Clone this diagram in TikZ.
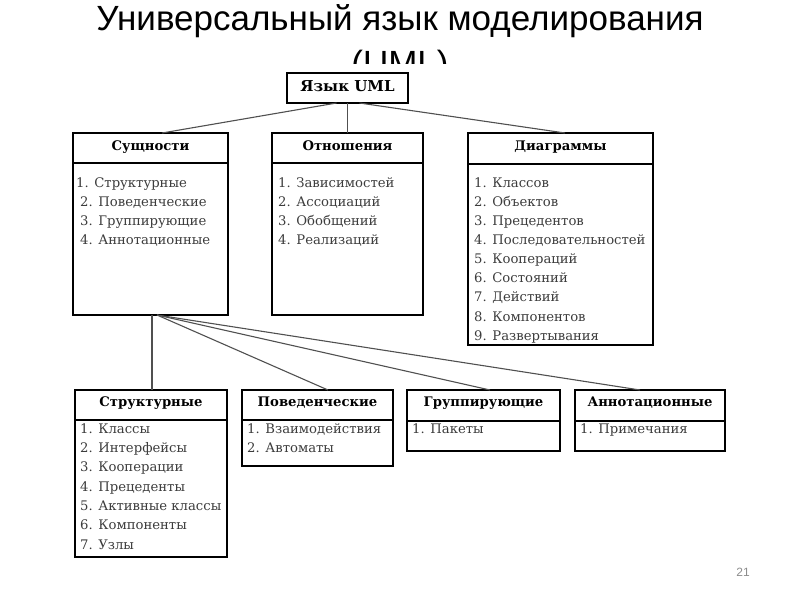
\documentclass[tikz,border=0pt]{standalone}
\usepackage{fontspec}
\usetikzlibrary{calc}
\newfontfamily\titlefont{Liberation Sans}
\newfontfamily\bodyfont{DejaVu Serif}
\definecolor{itemgray}{HTML}{3C3C3C}
\definecolor{conngray}{HTML}{505050}
\definecolor{pagegray}{HTML}{8C8C8C}
\tikzset{
  box/.style={draw=black, line width=2pt, rectangle, anchor=north west, inner sep=0pt, outer sep=0pt},
  divline/.style={draw=black, line width=2pt},
  conn/.style={draw=conngray, line width=1.1pt},
  head/.style={font=\bodyfont\bfseries\fontsize{13.2}{15}\selectfont, text=black, inner sep=0pt, text height=9pt, text depth=3pt},
  item/.style={font=\bodyfont\fontsize{13.2}{15}\selectfont, text=itemgray, anchor=west, inner sep=0pt, text height=9pt, text depth=3pt},
  titletext/.style={font=\titlefont\fontsize{35}{40}\selectfont, text=black, anchor=base, inner sep=0pt}
}
\begin{document}
\begin{tikzpicture}[x=1pt, y=-1pt]
\useasboundingbox (0,0) rectangle (800,600);
% title
\node[titletext] (title1) at (400,30) {Универсальный язык моделирования};
\begin{scope}
  \clip (0,0) rectangle (800,63);
  \node[titletext] (title2) at (400,75) {(UML)};
\end{scope}
% top box
\node[box, minimum width=121pt, minimum height=30pt] (uml) at (287,73) {};
\node[head, font=\bodyfont\bfseries\fontsize{15}{17}\selectfont] (umltext) at (347.5,88) {Язык UML};
% second level boxes
\node[box, minimum width=155pt, minimum height=182pt] (sus) at (73,133) {};
\node[box, minimum width=151pt, minimum height=182pt] (otn) at (272,133) {};
\node[box, minimum width=185pt, minimum height=212pt] (dia) at (468,133) {};
\draw[divline] (sus.west |- 0,163) -- (sus.east |- 0,163);
\draw[divline] (otn.west |- 0,163) -- (otn.east |- 0,163);
\draw[divline] (dia.west |- 0,164) -- (dia.east |- 0,164);
\node[head] (sush) at (150.5,147) {Сущности};
\node[head] (otnh) at (347.5,147) {Отношения};
\node[head] (diah) at (560.5,147) {Диаграммы};
% Сущности items
\node[item] (s1) at (76,184) {1. Структурные};
\node[item] (s2) at (80,203) {2. Поведенческие};
\node[item] (s3) at (80,222) {3. Группирующие};
\node[item] (s4) at (80,241) {4. Аннотационные};
% Отношения items
\node[item] (o1) at (278,184) {1. Зависимостей};
\node[item] (o2) at (278,203) {2. Ассоциаций};
\node[item] (o3) at (278,222) {3. Обобщений};
\node[item] (o4) at (278,241) {4. Реализаций};
% Диаграммы items
\node[item] (d1) at (474,184) {1. Классов};
\node[item] (d2) at (474,203) {2. Объектов};
\node[item] (d3) at (474,222) {3. Прецедентов};
\node[item] (d4) at (474,241) {4. Последовательностей};
\node[item] (d5) at (474,260) {5. Коопераций};
\node[item] (d6) at (474,279) {6. Состояний};
\node[item] (d7) at (474,298) {7. Действий};
\node[item] (d8) at (474,318) {8. Компонентов};
\node[item] (d9) at (474,337) {9. Развертывания};
% third level boxes
\node[box, minimum width=152pt, minimum height=167pt] (str) at (75,390) {};
\node[box, minimum width=151pt, minimum height=76pt] (pov) at (242,390) {};
\node[box, minimum width=153pt, minimum height=61pt] (gru) at (407,390) {};
\node[box, minimum width=150pt, minimum height=61pt] (ann) at (575,390) {};
\draw[divline] (str.west |- 0,420) -- (str.east |- 0,420);
\draw[divline] (pov.west |- 0,420) -- (pov.east |- 0,420);
\draw[divline] (gru.west |- 0,421) -- (gru.east |- 0,421);
\draw[divline] (ann.west |- 0,421) -- (ann.east |- 0,421);
\node[head] (strh) at (151,403) {Структурные};
\node[head] (povh) at (317.5,403) {Поведенческие};
\node[head] (gruh) at (483.5,403) {Группирующие};
\node[head] (annh) at (650,403) {Аннотационные};
\node[item] (t1) at (80,430) {1. Классы};
\node[item] (t2) at (80,449) {2. Интерфейсы};
\node[item] (t3) at (80,468) {3. Кооперации};
\node[item] (t4) at (80,488) {4. Прецеденты};
\node[item] (t5) at (80,507) {5. Активные классы};
\node[item] (t6) at (80,526) {6. Компоненты};
\node[item] (t7) at (80,546) {7. Узлы};
\node[item] (p1) at (247,430) {1. Взаимодействия};
\node[item] (p2) at (247,449) {2. Автоматы};
\node[item] (g1) at (412,430) {1. Пакеты};
\node[item] (a1) at (580,430) {1. Примечания};
% connectors
\draw[conn] ($(uml.south)+(-11,0)$) -- ($(sus.north)+(11.5,0)$);
\draw[conn] (uml.south) -- (otn.north);
\draw[conn] ($(uml.south)+(12,0)$) -- ($(dia.north)+(4.5,0)$);
\draw[conn] ($(sus.south)+(1.5,0)$) -- ($(str.north)+(1,0)$);
\draw[conn] ($(sus.south)+(6.5,0)$) -- ($(pov.north)+(10.5,0)$);
\draw[conn] ($(sus.south)+(6.5,0)$) -- ($(gru.north)+(6.5,0)$);
\draw[conn] ($(sus.south)+(6.5,0)$) -- ($(ann.north)+(-10,0)$);
% page number
\node[font=\titlefont\fontsize{12}{14}\selectfont, text=pagegray, inner sep=0pt] (pnum) at (743,572) {21};
\end{tikzpicture}
\end{document}
